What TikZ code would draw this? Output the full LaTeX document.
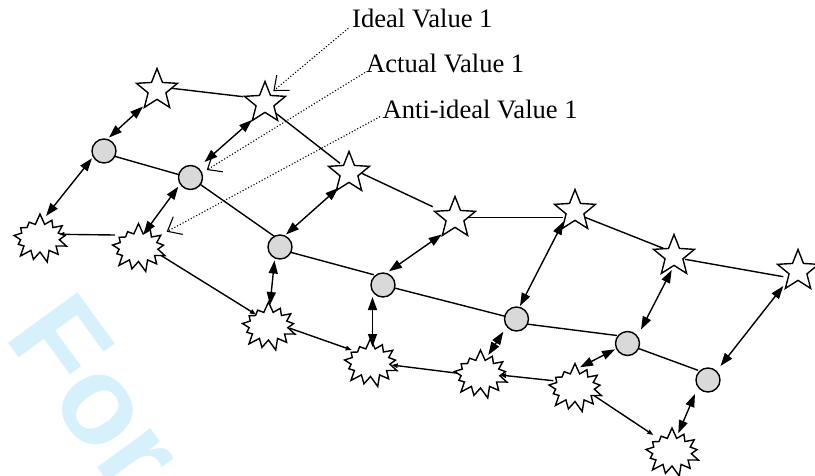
\documentclass[tikz,border=0pt]{standalone}
\usepackage{fontspec}
\setmainfont{Liberation Serif}
\newfontfamily\wmfont{Liberation Sans}
\usetikzlibrary{shapes.geometric,shapes.symbols,arrows.meta,calc,backgrounds}
\definecolor{wmcyan}{RGB}{214,240,252}
\definecolor{nodegray}{RGB}{217,217,217}
\begin{document}
\begin{tikzpicture}[x=1pt,y=-1pt,
  idealnode/.style={star, star points=5, star point ratio=2.3, minimum size=43pt, inner sep=0pt, draw=black, fill=white, line width=1.4pt},
  actualnode/.style={circle, minimum size=24pt, inner sep=0pt, draw=black, fill=nodegray, line width=1.4pt},
  antinode/.style={starburst, starburst points=13, starburst point height=11pt, random starburst=7, minimum width=61pt, minimum height=50pt, inner sep=0pt, draw=black, fill=white, line width=1.4pt},
  chain/.style={line width=1.4pt},
  smallhead/.style={line width=1.4pt, -{Triangle[length=6pt,width=4.5pt]}},
  dbl/.style={line width=1.4pt, {Triangle[length=13pt,width=9pt]}-{Triangle[length=13pt,width=9pt]}},
  callout/.style={line width=1.1pt, dotted, -{Straight Barb[length=12pt,width=20pt]}},
  calltext/.style={anchor=base west, inner sep=0pt, font=\fontsize{26.6}{30}\selectfont},
  wmtext/.style={anchor=base west, inner sep=0pt, rotate=-54, text=wmcyan, font=\wmfont\bfseries\fontsize{125}{125}\selectfont},
]
\useasboundingbox (0,0) rectangle (815,475);

% ideal values (stars)
\node[idealnode] (S1) at (157,90) {};
\node[idealnode] (S2) at (265,103) {};
\node[idealnode] (S3) at (349,173) {};
\node[idealnode] (S4) at (455,218) {};
\node[idealnode] (S5) at (575,211) {};
\node[idealnode] (S6) at (674,256) {};
\node[idealnode] (S7) at (798,271) {};
% actual values (circles)
\node[actualnode] (C1) at (104,151) {};
\node[actualnode] (C2) at (190.5,177.5) {};
\node[actualnode] (C3) at (280,247) {};
\node[actualnode] (C4) at (383,285) {};
\node[actualnode] (C5) at (516.5,319) {};
\node[actualnode] (C6) at (627.5,343.5) {};
\node[actualnode] (C7) at (708,380) {};
% anti-ideal values (bursts)
\node[antinode] (B1) at (40,238) {};
\node[antinode] (B2) at (138.5,247.5) {};
\node[antinode] (B3) at (268.5,326) {};
\node[antinode] (B4) at (370.5,362.5) {};
\node[antinode] (B5) at (480.5,374) {};
\node[antinode] (B6) at (575,387.5) {};
\node[antinode] (B7) at (672,452) {};

\begin{scope}[on background layer]
  \node[wmtext] (wm) at (3,336.7) {For};
  % star chain
  \draw[chain] ($(S1)+(14.7,-1.7)$) -- ($(S2)+(-21.7,-6.3)$);
  \draw[chain] ($(S2)+(6.7,7)$) -- ($(S3)+(-9,-9.7)$);
  \draw[chain] ($(S3)+(12.7,0.3)$) -- ($(S4)+(-22.3,-11.3)$);
  \draw[chain] ($(S4)+(8.3,-0.7)$) -- ($(S5)+(-11.7,6.3)$);
  \draw[chain] ($(S5)+(10,6.3)$) -- ($(S6)+(-10.7,-7.7)$);
  \draw[chain] ($(S6)+(11,3.3)$) -- ($(S7)+(-14.7,5.7)$);
  % circle chain
  \draw[chain] ($(C1)+(10.7,5.3)$) -- ($(C2)+(-8.5,-2)$);
  \draw[chain] ($(C2)+(9.2,6.5)$) -- ($(C3)+(-2.3,-8.3)$);
  \draw[chain] ($(C3)+(10.7,5.3)$) -- ($(C4)+(-9.3,-10.3)$);
  \draw[chain] ($(C4)+(10.7,2.8)$) -- ($(C5)+(-10.5,-2.5)$);
  \draw[chain] ($(C5)+(9.8,5)$) -- ($(C6)+(-10.5,-8)$);
  \draw[chain] ($(C6)+(10.5,4.8)$) -- ($(C7)+(-10,-9.7)$);
  % burst chain
  \draw[smallhead] ($(B2)+(-23.5,-12.5)$) -- ($(B1)+(18.3,-3.7)$);
  \draw[smallhead] ($(B2)+(16.5,4.2)$) -- ($(B3)+(-12.5,-11.5)$);
  \draw[smallhead] ($(B3)+(21.5,2.3)$) -- ($(B4)+(-18.8,-12.5)$);
  \draw[smallhead] ($(B5)+(-22.2,-0.7)$) -- ($(B4)+(21.2,2.5)$);
  \draw[smallhead] ($(B6)+(-21.7,-6.8)$) -- ($(B5)+(19.5,1)$);
  \draw[smallhead] ($(B6)+(16.7,6.5)$) -- ($(B7)+(-18.7,-17)$);
\end{scope}

% double arrows
\draw[dbl] ($(S1)+(-14,16.5)$) -- ($(C1)+(5,-13.5)$);
\draw[dbl] ($(C1)+(-12,7.3)$) -- ($(B1)+(6,-22)$);
\draw[dbl] ($(S2)+(-13,17)$) -- ($(C2)+(14,-15.5)$);
\draw[dbl] ($(C2)+(-12.2,9.2)$) -- ($(B2)+(5,-13.5)$);
\draw[dbl] ($(S3)+(-10.7,15)$) -- ($(C3)+(6,-12.5)$);
\draw[dbl] ($(C3)+(-5.5,13.5)$) -- ($(B3)+(1.5,-21)$);
\draw[dbl] ($(S4)+(-13.3,16.5)$) -- ($(C4)+(6,-13.7)$);
\draw[dbl] ($(C4)+(-10.5,12)$) -- ($(B4)+(2,-15.5)$);
\draw[dbl] ($(S5)+(-11.7,10.7)$) -- ($(C5)+(3.5,-13)$);
\draw[dbl] ($(C5)+(-13.2,12.7)$) -- ($(B5)+(7.8,-19)$);
\draw[dbl] ($(S6)+(-2.3,14)$) -- ($(C6)+(13.5,-14)$);
\draw[dbl] ($(C6)+(-12.5,5.8)$) -- ($(B6)+(5,-20.2)$);
\draw[dbl] ($(S7)+(-14.7,15)$) -- ($(C7)+(12.5,-14)$);
\draw[dbl] ($(C7)+(-13,14)$) -- ($(B7)+(6.3,-18.7)$);

% callouts
\node[calltext] (t1) at (352,27.3) {Ideal Value 1};
\node[calltext] (t2) at (366,72.5) {Actual Value 1};
\node[calltext] (t3) at (382.5,118.3) {Anti-ideal Value 1};
\draw[callout] ($(t1.base west)+(-3.7,1)$) -- ($(S2)+(8.3,-12)$);
\draw[callout] ($(t2.base west)+(-1,0)$) -- ($(C2)+(16.2,-7.5)$);
\draw[callout] ($(t3.base west)+(-2.5,-1.6)$) -- ($(B2)+(28.2,-15.8)$);
\end{tikzpicture}
\end{document}
